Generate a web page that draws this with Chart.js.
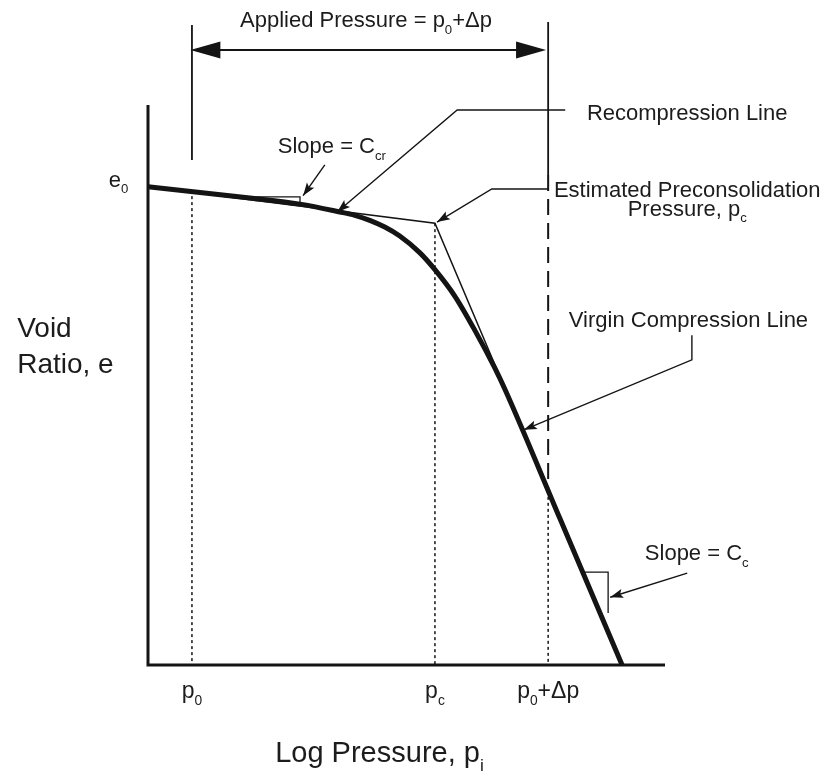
<!DOCTYPE html>
<html>
<head>
<meta charset="utf-8">
<title>Void ratio - log pressure</title>
<script src="https://cdn.jsdelivr.net/npm/chart.js@4.4.1/dist/chart.umd.min.js"></script>
<style>
  html, body { margin: 0; padding: 0; background: #fff; }
  canvas { display: block; }
</style>
</head>
<body>
<canvas id="curvaE" width="827" height="771"></canvas>
<script>
// e - log p curve (schematic units: log p 0..10, e 0..1)
const logP = [0, 1.97, 2.94, 3.71, 4.00, 4.29, 4.58, 4.87, 5.26, 5.55, 5.94, 6.32, 6.71, 6.91, 7.97, 9.17];
const voidRatio = [0.854, 0.834, 0.823, 0.809, 0.803, 0.794, 0.782, 0.766, 0.736, 0.706, 0.658, 0.598, 0.530, 0.491, 0.261, 0];

// recompression line produced to the preconsolidation point, then the virgin line
const recompP = [0, 5.55, 9.17];
const recompE = [0.854, 0.789, 0];

// pressures marked on the x axis
const pressureNames = ['p_{0}', 'p_{c}', 'p_{0}+Δp'];
const pressureValues = [0.85, 5.55, 7.74];
const dropTop = [0.848, 0.789, 0.311];   // where each drop line leaves the curve
const e0 = 0.854;

const INK = '#141414';
const FONT = "'Liberation Sans', Arial, Helvetica, sans-serif";

function seg(xs, ys, width, dash) {
  return {
    data: xs.map((x, i) => ({ x: x, y: ys[i] })),
    showLine: true,
    borderColor: INK,
    borderWidth: width,
    borderDash: dash || [],
    pointRadius: 0,
    tension: 0,
    clip: false
  };
}

const datasets = [];
// thick curve on top
datasets.push(Object.assign(seg(logP, voidRatio, 5), { cubicInterpolationMode: 'monotone' }));
datasets.push(seg(recompP, recompE, 1.5));
// axes
datasets.push(seg([0, 0, 10], [1, 0, 0], 3));
// dotted drops to the pressure axis
pressureValues.forEach((p, i) => datasets.push(seg([p, p], [dropTop[i], 0], 1.5, [3, 3])));
// dimension lines for the applied pressure
datasets.push(seg([pressureValues[0], pressureValues[0]], [1.143, 0.902], 1.8));
datasets.push(seg([pressureValues[2], pressureValues[2]], [1.148, 0.875], 1.8));
datasets.push(seg([pressureValues[2], pressureValues[2]], [0.875, dropTop[2]], 2, [16, 8]));

// callouts (data units)
const leaders = [
  [[3.42, 0.893], [3.00, 0.838]],
  [[8.07, 0.991], [5.98, 0.991], [3.66, 0.809]],
  [[7.74, 0.850], [6.65, 0.850], [5.59, 0.791]],
  [[10.52, 0.589], [10.52, 0.545], [7.27, 0.420]],
  [[10.43, 0.164], [8.94, 0.121]]
];
const slopeMarks = [
  [[1.97, 0.836], [2.94, 0.836], [2.94, 0.823]],
  [[8.45, 0.166], [8.90, 0.166], [8.90, 0.093]]
];
const dimension = { y: 1.098, from: 0.82, to: 7.70 };

const notes = [
  { t: 'Applied Pressure = p_{0}+Δp', x: 1.78, y: 1.139 },
  { t: 'Slope = C_{cr}', x: 2.51, y: 0.914 },
  { t: 'Recompression Line', x: 8.49, y: 0.973 },
  { t: 'Estimated Preconsolidation', x: 10.43, y: 0.836, align: 'center' },
  { t: 'Pressure, p_{c}', x: 10.43, y: 0.802, align: 'center' },
  { t: 'Virgin Compression Line', x: 8.14, y: 0.604 },
  { t: 'Slope = C_{c}', x: 9.61, y: 0.1875 },
  { t: 'e_{0}', x: -0.38, y: e0, align: 'right' },
  { t: 'Void', x: -2.53, y: 0.586, size: 28 },
  { t: 'Ratio, e', x: -2.53, y: 0.521, size: 28 },
  { t: 'Log Pressure, p_{i}', x: 2.46, y: -0.173, size: 29 }
];

function parts(str) {
  const out = [];
  str.split(/(_\{[^}]*\})/).forEach(s => {
    if (!s) return;
    if (s.startsWith('_{')) out.push({ s: s.slice(2, -1), sub: true });
    else out.push({ s: s, sub: false });
  });
  return out;
}

function drawRich(ctx, str, x, y, size, align) {
  const ps = parts(str);
  const subSize = size * 0.6;
  let w = 0;
  ps.forEach(p => {
    ctx.font = (p.sub ? subSize : size) + 'px ' + FONT;
    p.w = ctx.measureText(p.s).width;
    w += p.w;
  });
  let cx = x;
  if (align === 'center') cx = x - w / 2;
  if (align === 'right') cx = x - w;
  ps.forEach(p => {
    ctx.font = (p.sub ? subSize : size) + 'px ' + FONT;
    ctx.fillText(p.s, cx, p.sub ? y + size * 0.3 : y);
    cx += p.w;
  });
}

function head(ctx, a, b, len, half, notch) {
  const ang = Math.atan2(b[1] - a[1], b[0] - a[0]);
  ctx.save();
  ctx.translate(b[0], b[1]);
  ctx.rotate(ang);
  ctx.beginPath();
  ctx.moveTo(0, 0);
  ctx.lineTo(-len, -half);
  ctx.lineTo(-len * notch, 0);
  ctx.lineTo(-len, half);
  ctx.closePath();
  ctx.fill();
  ctx.restore();
}

const sketchNotes = {
  id: 'sketchNotes',
  afterDatasetsDraw(chart) {
    const ctx = chart.ctx;
    const sx = chart.scales.x, sy = chart.scales.y;
    const P = pt => [sx.getPixelForValue(pt[0]), sy.getPixelForValue(pt[1])];
    ctx.save();
    ctx.strokeStyle = INK;
    ctx.fillStyle = INK;
    ctx.lineJoin = 'miter';

    // leaders with arrowheads
    ctx.lineWidth = 1.4;
    leaders.forEach(l => {
      const px = l.map(P);
      ctx.beginPath();
      px.forEach((p, i) => i ? ctx.lineTo(p[0], p[1]) : ctx.moveTo(p[0], p[1]));
      ctx.stroke();
      head(ctx, px[px.length - 2], px[px.length - 1], 13, 4.5, 0.8);
    });

    // slope triangles
    ctx.lineWidth = 1.3;
    slopeMarks.forEach(m => {
      const px = m.map(P);
      ctx.beginPath();
      px.forEach((p, i) => i ? ctx.lineTo(p[0], p[1]) : ctx.moveTo(p[0], p[1]));
      ctx.stroke();
    });

    // applied pressure dimension arrow
    const a = P([dimension.from, dimension.y]), b = P([dimension.to, dimension.y]);
    ctx.lineWidth = 2;
    ctx.beginPath();
    ctx.moveTo(a[0] + 20, a[1]);
    ctx.lineTo(b[0] - 20, b[1]);
    ctx.stroke();
    head(ctx, a, b, 30, 8.5, 1);
    head(ctx, b, a, 30, 8.5, 1);

    // text
    ctx.fillStyle = '#1c1c1c';
    ctx.textBaseline = 'alphabetic';
    notes.forEach(n => {
      const p = P([n.x, n.y]);
      drawRich(ctx, n.t, p[0], p[1], n.size || 22, n.align || 'left');
    });
    pressureValues.forEach((v, i) => {
      const p = P([v, -0.059]);
      drawRich(ctx, pressureNames[i], p[0], p[1], 23, 'center');
    });
    ctx.restore();
  }
};

new Chart(document.getElementById('curvaE'), {
  type: 'scatter',
  data: { datasets: datasets },
  options: {
    responsive: false,
    animation: false,
    events: [],
    layout: { padding: { left: 148, right: 162, top: 105, bottom: 106 } },
    scales: {
      x: { type: 'linear', min: 0, max: 10, display: false },
      y: { type: 'linear', min: 0, max: 1, display: false }
    },
    plugins: { legend: { display: false }, tooltip: { enabled: false } }
  },
  plugins: [sketchNotes]
});
</script>
</body>
</html>
